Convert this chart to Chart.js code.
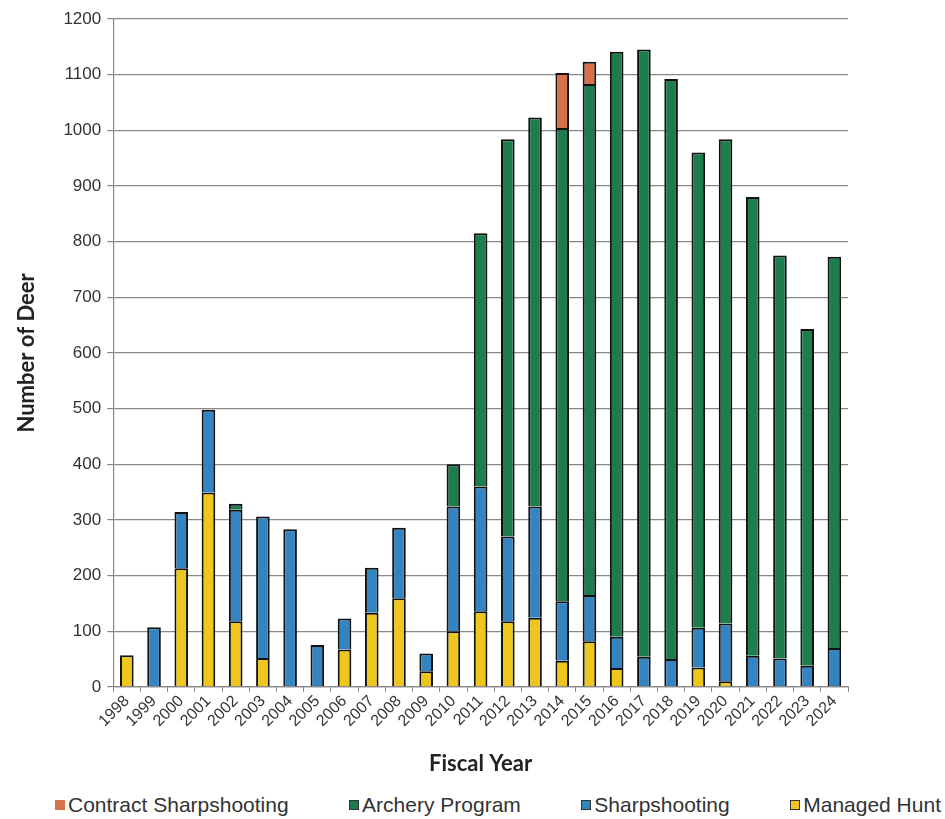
<!DOCTYPE html>
<html>
<head>
<meta charset="utf-8">
<script src="https://cdn.jsdelivr.net/npm/chart.js@4"></script>
<style>
  body { margin: 0; background: #fff; }
  #wrap { width: 945px; height: 819px; position: relative; }
  #legend {
    position: absolute; left: 0; top: 791px; width: 945px; height: 28px;
    display: flex; justify-content: space-between; align-items: center;
    box-sizing: border-box; padding: 0 4px 0 55px;
    font-family: 'Liberation Sans', Arial, sans-serif; font-size: 21px; color: #333;
  }
  #legend span.item { display: flex; align-items: center; }
  #legend span.box { width: 8px; height: 8px; border: 1px solid #333; margin-right: 3px; display: inline-block; }
</style>
</head>
<body>
<div id="wrap">
  <canvas id="deer" width="945" height="790"></canvas>
  <div id="legend"></div>
</div>
<script>
const years = ['1998','1999','2000','2001','2002','2003','2004','2005','2006','2007','2008','2009','2010',
  '2011','2012','2013','2014','2015','2016','2017','2018','2019','2020','2021','2022','2023','2024'];

// stacked from bottom to top
const managedHunt = [57, 0, 213, 349, 118, 52, 0, 0, 67, 133, 159, 28, 100,
  136, 118, 124, 47, 82, 34, 0, 0, 35, 10, 0, 0, 0, 0];
const sharpshooting = [0, 107, 101, 149, 200, 254, 283, 75, 56, 81, 127, 32, 224,
  224, 152, 200, 107, 83, 56, 54, 50, 71, 104, 56, 51, 38, 70];
const archery = [0, 0, 0, 0, 11, 0, 0, 0, 0, 0, 0, 0, 76,
  455, 714, 699, 850, 918, 1051, 1091, 1042, 854, 870, 824, 724, 605, 703];
const contractSharpshooting = [0, 0, 0, 0, 0, 0, 0, 0, 0, 0, 0, 0, 0,
  0, 0, 0, 99, 40, 0, 0, 0, 0, 0, 0, 0, 0, 0];

const yTicks = [0, 100, 200, 300, 400, 500, 600, 700, 800, 900, 1000, 1100, 1200];

const sans = 'Liberation Sans, Arial, sans-serif';
const titleFont = { family: 'Lato, sans-serif', size: 22, weight: 'bold' };

function series(label, data, color) {
  return {
    label: label,
    data: data,
    backgroundColor: color,
    borderColor: '#111',
    borderWidth: 2,
    barPercentage: 0.5,
    categoryPercentage: 1
  };
}

const chart = new Chart(document.getElementById('deer'), {
  type: 'bar',
  data: {
    labels: years,
    datasets: [
      series('Managed Hunt', managedHunt, '#EFC61C'),
      series('Sharpshooting', sharpshooting, '#3584C2'),
      series('Archery Program', archery, '#1E7D4D'),
      series('Contract Sharpshooting', contractSharpshooting, '#D8704A')
    ]
  },
  options: {
    responsive: false,
    animation: false,
    layout: { padding: { left: 10, right: 97, top: 19, bottom: 13 } },
    plugins: {
      tooltip: { enabled: false },
      legend: { display: false }
    },
    scales: {
      x: {
        stacked: true,
        border: { color: '#888', width: 1.2 },
        grid: { display: true, drawOnChartArea: false, tickLength: 5, color: '#888', offset: true },
        ticks: { autoSkip: false, minRotation: 45, maxRotation: 45, color: '#333', font: { family: sans, size: 16 }, padding: 0 },
        title: { display: true, text: 'Fiscal Year', color: '#222', font: titleFont, padding: { top: 20, bottom: 0 } }
      },
      y: {
        stacked: true,
        min: 0,
        max: 1200,
        afterBuildTicks: axis => { axis.ticks = yTicks.map(v => ({ value: v })); },
        border: { color: '#888', width: 1.2 },
        grid: { color: '#888', lineWidth: 1.2, tickLength: 6 },
        ticks: { color: '#333', font: { family: sans, size: 17 }, padding: 6, callback: v => String(v) },
        title: { display: true, text: 'Number of Deer', color: '#222', font: titleFont, padding: { bottom: 17 } }
      }
    }
  }
});

// legend, top layer first as in the original
const legend = document.getElementById('legend');
chart.data.datasets.slice().reverse().forEach(ds => {
  const item = document.createElement('span');
  item.className = 'item';
  const box = document.createElement('span');
  box.className = 'box';
  box.style.background = ds.backgroundColor;
  if (ds.label === 'Contract Sharpshooting') box.style.borderColor = ds.backgroundColor;
  item.appendChild(box);
  item.appendChild(document.createTextNode(ds.label));
  legend.appendChild(item);
});
</script>
</body>
</html>
